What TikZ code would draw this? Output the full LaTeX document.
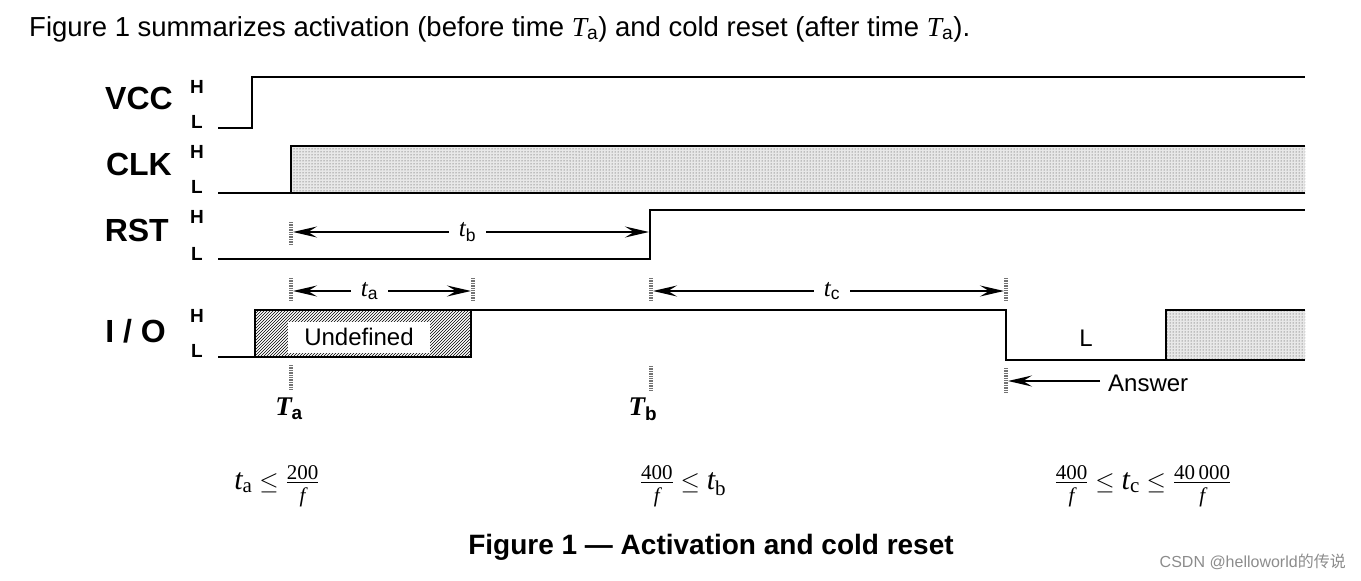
\documentclass[tikz,border=0pt]{standalone}
\usepackage{amsmath}
\usepackage{fontspec}
\setmainfont{Liberation Sans}
\newfontfamily\tms{Liberation Serif}
\newfontfamily\cjk{Noto Sans CJK SC}
\usetikzlibrary{arrows.meta,patterns,positioning}
\newcommand{\tv}[2]{\text{\tms\itshape #1}_{\text{\tms #2}}}
\newcommand{\tf}[2]{\frac{\text{\tms #1}}{\text{\rule{0pt}{0.85em}\tms\itshape #2}}}

\begin{document}
\begin{tikzpicture}[x=1pt, y=-1pt,
  sig/.style={line width=2.2pt, line join=miter},
  tick/.style={draw=black!55, line width=3.5pt, dash pattern=on 1.4pt off 1pt},
  arr/.style={-{Stealth[length=24pt, width=11pt, inset=9pt]}, line width=1.6pt},
  arrboth/.style={{Stealth[length=24pt, width=11pt, inset=9pt]}-{Stealth[length=24pt, width=11pt, inset=9pt]}, line width=1.6pt},
  sname/.style={font=\fontsize{32}{36}\selectfont\bfseries, anchor=east, inner sep=0pt},
  lvl/.style={font=\fontsize{19}{21}\selectfont\bfseries, inner sep=0pt},
  dur/.style={font=\fontsize{25}{27}\selectfont, fill=white, inner xsep=10pt},
  stamp/.style={font=\fontsize{27}{29}\selectfont\bfseries, inner sep=0pt},
  dotfill/.style={fill=black!9, postaction={pattern=dots, pattern color=black!80}},
  eq/.style={font=\fontsize{30}{33}\selectfont}
]
\useasboundingbox (0,0) rectangle (1361,581);

% intro line
\node[font=\fontsize{27.5}{30}\selectfont, anchor=west, inner sep=0pt] (intro) at (29,29)
  {Figure 1 summarizes activation (before time {\tms\itshape T}\textsubscript{a}) and cold reset (after time {\tms\itshape T}\textsubscript{a}).};

% signal names and levels
\node[sname] (vcc) at (173,98) {VCC};
\node[sname] (clk) at (172,164) {CLK};
\node[sname] (rst) at (169,230) {RST};
\node[sname] (io) at (166,331) {I / O};
\foreach \n/\yh/\yl in {vccH/87/122, clkH/152/187, rstH/217/254, ioH/316/351}{
  \node[lvl] (\n) at (197,\yh) {H};
  \node[lvl] at (197,\yl) {L};
}

% VCC
\draw[sig] (218,128) -- (252,128) -- (252,77) -- (1305,77);

% CLK
\path[dotfill] (291,146) rectangle (1305,193);
\draw[sig] (218,193) -- (291,193) -- (291,146) -- (1305,146);
\draw[sig] (291,193) -- (1305,193);

% RST
\draw[sig] (218,259) -- (650,259) -- (650,210) -- (1305,210);

% I/O
\draw[sig, pattern=north east lines] (255,310) rectangle (471,357);
\node[fill=white, minimum width=142pt, minimum height=31pt, inner sep=0pt,
  font=\fontsize{24}{26}\selectfont] (undef) at (359,337) {Undefined};
\path[dotfill] (1166,310) rectangle (1305,360);
\draw[sig] (218,357) -- (255,357);
\draw[sig] (471,310) -- (1006,310) -- (1006,360) -- (1166,360) -- (1166,310) -- (1305,310);
\draw[sig] (1166,360) -- (1305,360);
\node[font=\fontsize{24}{26}\selectfont] (low) at (1086,338) {L};

% time marks
\draw[tick] (291,222) -- (291,244);
\draw[tick] (291,278) -- (291,301);
\draw[tick] (473,278) -- (473,301);
\draw[tick] (651,278) -- (651,301);
\draw[tick] (1006,278) -- (1006,301);
\draw[tick] (291,365) -- (291,390);
\draw[tick] (651,366) -- (651,392);
\draw[tick] (1006,368) -- (1006,393);

\coordinate (tbL) at (293,232);
\coordinate (tbR) at (649,232);
\coordinate (taL) at (293,291);
\coordinate (taR) at (471,291);
\coordinate (tcL) at (653,291);
\coordinate (tcR) at (1004,291);
\coordinate (ansR) at (1100,381);
\coordinate (ansL) at (1008,381);

\draw[arrboth] (tbL) -- (tbR) node[dur, pos=0.49] {{\tms\itshape t}\textsubscript{b}};
\draw[arrboth] (taL) -- (taR) node[dur, pos=0.43] {{\tms\itshape t}\textsubscript{a}};
\draw[arrboth] (tcL) -- (tcR) node[dur, pos=0.51] {{\tms\itshape t}\textsubscript{c}};
\draw[arr] (ansR) -- (ansL);
\node[font=\fontsize{24}{26}\selectfont, anchor=west, inner sep=0pt] (answer) at (1108,383) {Answer};

\node[stamp] (TaL) at (289,409) {{\tms\bfseries\itshape T}\textsubscript{a}};
\node[stamp] (TbL) at (643,409) {{\tms\bfseries\itshape T}\textsubscript{b}};

% constraints
\node[eq] (eqa) at (277,486) {$\tv{t}{a} \le \tf{200}{f}$};
\node[eq] (eqb) at (683,486) {$\tf{400}{f} \le \tv{t}{b}$};
\node[eq] (eqc) at (1143,486) {$\tf{400}{f} \le \tv{t}{c} \le \tf{40\,000}{f}$};

% caption
\node[font=\fontsize{28}{30}\selectfont\bfseries] (cap) at (711,547) {Figure 1 --- Activation and cold reset};
\node[font=\fontsize{16}{18}\selectfont, text=black!45, anchor=east, inner sep=0pt] (mark) at (1346,562)
  {CSDN @helloworld{\cjk 的传说}};
\end{tikzpicture}
\end{document}
